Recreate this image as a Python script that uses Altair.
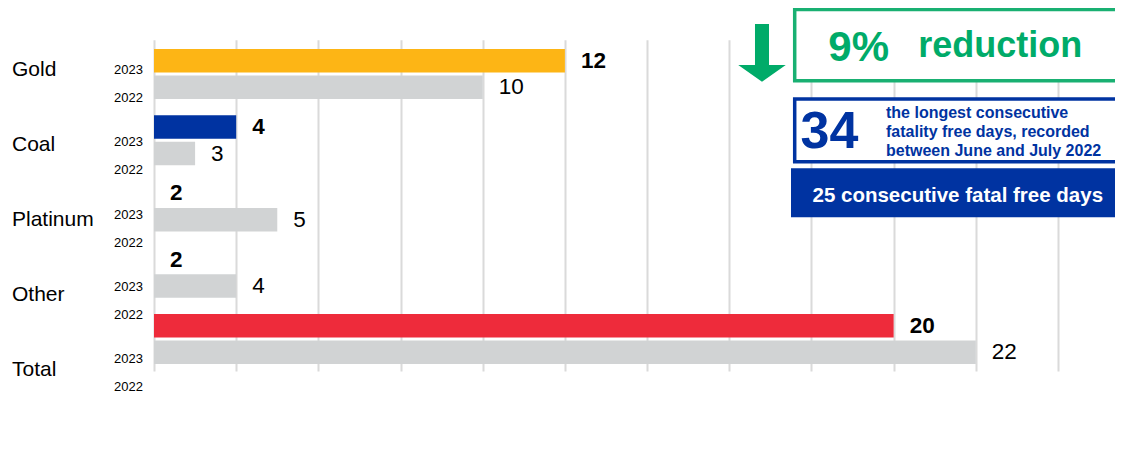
import altair as alt
import pandas as pd

# ---------------- data ----------------
categories = ["Gold", "Coal", "Platinum", "Other", "Total"]
years = ["2023", "2022"]
values_2023 = [12, 4, 2, 2, 20]
values_2022 = [10, 3, 5, 4, 22]
x_ticks = [2, 4, 6, 8, 10, 12, 14, 16, 18, 20, 22, 24]

headline = "9%"
headline_word = "reduction"
streak_days = "34"
streak_note = ["the longest consecutive", "fatality free days, recorded", "between June and July 2022"]
banner = "25 consecutive fatal free days"

rows = []
for c, v23, v22 in zip(categories, values_2023, values_2022):
    rows.append({"category": c, "year": "2023", "value": v23, "key": c})
    rows.append({"category": c, "year": "2022", "value": v22, "key": "2022"})
df = pd.DataFrame(rows)
cat_df = pd.DataFrame({"category": categories})
one_df = pd.DataFrame({"a": [1]})

# ---------------- styles ----------------
FONT = "Liberation Sans"
ORANGE = "#FDB515"
BLUE = "#0033A1"
RED = "#EE2B3B"
GRAY = "#D1D3D4"
GREEN = "#00AB69"
GREEN_BORDER = "#19B072"
GRID = "#DADADA"

color_scale = alt.Scale(domain=categories + ["2022"],
                        range=[ORANGE, BLUE, GRAY, GRAY, RED, GRAY])

x_axis = alt.Axis(values=x_ticks, grid=True, labels=False, ticks=False,
                  domain=False, title=None, gridColor=GRID, gridWidth=2)
x_enc = alt.X("value:Q",
              scale=alt.Scale(domain=[2, 24], range=[146, 1050], zero=False, nice=False),
              axis=x_axis)

y_bar = alt.Y("category:N", sort=categories,
              scale=alt.Scale(domain=categories, range=[0.9, 332.2],
                              paddingInner=0, paddingOuter=0),
              axis=None)
yo_bar = alt.YOffset("year:N", sort=years,
                     scale=alt.Scale(domain=years, range=[0, 66.26],
                                     paddingInner=0.113, paddingOuter=0.3065))
# text marks use a point offset scale: same centres as the bar sub-bands
yo_text = alt.YOffset("year:N", sort=years,
                      scale=alt.Scale(type="point", domain=years, range=[0, 66.26],
                                      padding=0.75))

base = alt.Chart(df)

bars = base.mark_bar().encode(
    x=x_enc,
    x2=alt.datum(2),
    y=y_bar,
    yOffset=yo_bar,
    color=alt.Color("key:N", scale=color_scale, legend=None),
)

lab23 = base.transform_filter(alt.datum.year == "2023").mark_text(
    align="left", baseline="middle", dx=16, fontSize=22.5, fontWeight="bold",
    font=FONT, color="black"
).encode(x=x_enc, y=y_bar, yOffset=yo_text, text="value:Q")

lab22 = base.transform_filter(alt.datum.year == "2022").mark_text(
    align="left", baseline="middle", dx=16, fontSize=22.5, fontWeight="normal",
    font=FONT, color="black"
).encode(x=x_enc, y=y_bar, yOffset=yo_text, text="value:Q")

cat_labels = alt.Chart(cat_df).mark_text(
    align="left", baseline="middle", fontSize=21, font=FONT, color="black"
).encode(
    x=alt.value(4),
    y=alt.Y("category:N", sort=categories,
            scale=alt.Scale(domain=categories, range=[-7.4, 368.0],
                            paddingInner=0, paddingOuter=0),
            axis=None),
    text="category:N",
)

year_labels = base.mark_text(
    align="right", baseline="middle", fontSize=13, font=FONT, color="black"
).encode(
    x=alt.value(135),
    y=alt.Y("category:N", sort=categories,
            scale=alt.Scale(domain=categories, range=[8.2, 368.9],
                            paddingInner=0, paddingOuter=0),
            axis=None),
    yOffset=alt.YOffset("year:N", sort=years,
                        scale=alt.Scale(type="point", domain=years, range=[0, 72.13],
                                        padding=0.788)),
    text="year:N",
)

ann = alt.Chart(one_df)

arrow_path = ("M-0.292,-1.202L0.292,-1.202L0.292,0.506L0.99,0.506"
              "L0,1.202L-0.99,0.506L-0.292,0.506Z")
arrow = ann.mark_point(shape=arrow_path, size=2304, filled=True, color=GREEN,
                       opacity=1, strokeWidth=0).encode(
    x=alt.value(754), y=alt.value(12.85))

green_box = ann.mark_rect(fill="white", stroke=GREEN_BORDER, strokeWidth=3.5).encode(
    x=alt.value(786.7), x2=alt.value(1135), y=alt.value(-30.5), y2=alt.value(40.7))

pct_text = ann.mark_text(text=headline, align="left", baseline="alphabetic",
                         fontSize=42, fontWeight="bold", font=FONT, color=GREEN).encode(
    x=alt.value(820.3), y=alt.value(20.5))

red_text = ann.mark_text(text=headline_word, align="left", baseline="alphabetic",
                         fontSize=36, fontWeight="bold", font=FONT, color=GREEN).encode(
    x=alt.value(910.3), y=alt.value(17.3))

blue_box = ann.mark_rect(fill="white", stroke=BLUE, strokeWidth=3.5).encode(
    x=alt.value(786.7), x2=alt.value(1135), y=alt.value(59), y2=alt.value(121.7))

num_text = ann.mark_text(text=streak_days, align="left", baseline="alphabetic",
                         fontSize=52, fontWeight="bold", font=FONT, color=BLUE).encode(
    x=alt.value(792.5), y=alt.value(108.3))

note_text = ann.mark_text(text=streak_note, align="left", baseline="alphabetic",
                          fontSize=16, fontWeight="bold", font=FONT, color=BLUE,
                          lineHeight=18.7).encode(
    x=alt.value(878), y=alt.value(78.3))

banner_box = ann.mark_rect(fill=BLUE, strokeWidth=0).encode(
    x=alt.value(783), x2=alt.value(1135), y=alt.value(128.3), y2=alt.value(177.3))

banner_text = ann.mark_text(text=banner, align="left", baseline="alphabetic",
                            fontSize=20.5, fontWeight="bold", font=FONT, color="white").encode(
    x=alt.value(804.5), y=alt.value(161.7))

chart = alt.layer(
    bars, lab23, lab22, cat_labels, year_labels,
    arrow, green_box, pct_text, red_text, blue_box, num_text, note_text,
    banner_box, banner_text,
).resolve_scale(
    y="independent", yOffset="independent"
).properties(
    width=1107, height=332,
    padding={"left": 0, "top": 32, "right": 0, "bottom": 40},
    autosize="none",
).configure(font=FONT).configure_view(stroke=None)

chart.save("out.html", embed_options={"renderer": "svg", "actions": False})
